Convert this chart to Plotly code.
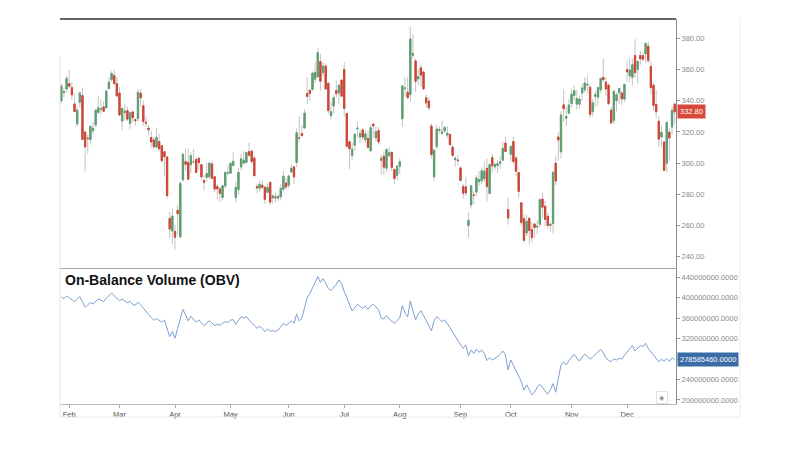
import pandas as pd
import plotly.graph_objects as go

# ---------------- data ----------------
HOLIDAYS = ["2018-02-19", "2018-03-30", "2018-05-28", "2018-07-04",
            "2018-09-03", "2018-11-22", "2018-12-05", "2018-12-25"]
dates = [d.strftime("%Y-%m-%d") for d in
         pd.bdate_range("2018-01-29", "2018-12-31", freq="C", holidays=HOLIDAYS)]

opens = [
    339.85, 345.14, 347.51,
    351.00, 348.44, 337.97, 325.21, 338.99, 343.31, 319.93, 316.13, 315.02, 320.84, 324.50, 332.50, 334.47, 336.03, 335.53, 347.83, 353.50, 356.27, 351.00,
    345.01, 326.98, 332.39, 333.75, 325.44, 332.86, 328.00, 328.61, 344.92, 336.76, 326.26, 322.50, 316.50, 314.87, 310.25, 313.89, 311.25, 307.34, 304.00, 264.58, 256.49,
    256.26, 269.82, 252.78, 289.34, 301.00, 300.37, 298.97, 300.74, 302.32, 303.10, 299.00, 288.87, 291.00, 291.28, 299.53, 291.29, 285.00, 283.50, 278.00, 285.37, 293.61,
    293.51, 298.57, 278.00, 283.00, 297.50, 300.00, 300.41, 307.50, 307.70, 303.32, 285.01, 283.83, 285.90, 284.65, 281.33, 287.76, 277.76, 278.40, 277.63, 278.51, 283.29, 287.21,
    285.86, 294.34, 297.70, 300.50, 316.15, 319.00, 322.51, 344.70, 346.71, 347.21, 353.84, 355.40, 365.16, 358.04, 362.26, 351.24, 330.44, 336.58, 346.60, 345.00, 353.27,
    360.07, 331.75, 313.76, 304.95, 311.50, 322.00, 316.70, 321.30, 315.00, 315.90, 308.00, 325.00, 316.33, 321.00, 301.84, 304.42, 296.74, 304.85, 307.00, 295.90, 292.24,
    297.99, 328.44, 347.81, 345.46, 343.84, 369.09, 365.55, 354.00, 361.13, 358.45, 341.91, 339.90, 323.83, 291.20, 310.61, 320.87, 319.14, 320.70, 318.00, 318.41, 310.27, 302.26, 302.00,
    296.94, 285.05, 284.80, 260.10, 273.26, 279.47, 281.44, 288.02, 288.75, 290.04, 296.69, 280.51, 303.56, 297.70, 298.48, 300.00, 301.91, 312.90, 270.26,
    305.77, 313.95, 303.33, 293.95, 274.65, 264.52, 255.25, 264.61, 257.53, 261.00, 259.06, 260.80, 277.00, 272.46, 266.00, 260.00, 261.40, 300.00, 316.80, 307.25, 337.37, 328.80, 332.00,
    338.26, 343.40, 337.83, 337.80, 345.00, 347.00, 350.00, 348.60, 333.00, 342.70, 342.30, 347.00, 355.00, 352.00, 350.00, 334.00, 327.50, 340.00, 345.00, 345.00, 341.00,
    360.00, 356.00, 355.00, 369.00, 360.00, 369.00, 369.00, 370.00, 375.00, 362.00, 350.00, 337.60, 327.00, 316.80, 313.50, 300.00, 319.84, 323.10, 337.79,
]
highs = [
    350.85, 348.27, 356.19,
    359.66, 351.95, 344.47, 336.22, 346.00, 348.62, 320.98, 318.08, 323.96, 326.17, 334.12, 343.12, 340.84, 339.69, 347.44, 354.99, 359.00, 359.99, 355.24,
    348.67, 335.22, 337.75, 336.37, 332.50, 333.30, 328.00, 347.21, 347.45, 339.81, 330.10, 324.50, 320.75, 316.25, 322.44, 318.82, 311.61, 307.59, 304.27, 268.68, 270.96,
    260.33, 273.35, 288.37, 306.26, 309.28, 309.50, 307.10, 308.98, 303.95, 303.95, 299.50, 292.17, 300.24, 300.69, 301.80, 291.49, 287.00, 285.00, 285.00, 294.47, 298.73,
    300.82, 306.85, 288.00, 296.86, 305.98, 307.75, 307.01, 312.99, 308.88, 304.94, 286.96, 288.81, 289.20, 284.65, 286.87, 288.00, 279.91, 281.11, 279.64, 286.50, 295.01, 290.37,
    291.95, 299.00, 297.80, 322.17, 330.00, 324.48, 334.66, 354.97, 347.20, 358.75, 364.67, 373.73, 370.00, 364.36, 363.97, 352.00, 339.50, 343.67, 353.30, 350.00, 353.65,
    364.78, 332.49, 314.39, 312.99, 318.55, 326.49, 321.39, 322.50, 321.20, 320.60, 324.74, 325.50, 323.54, 323.24, 305.50, 307.72, 309.62, 310.70, 307.30, 296.70, 298.32,
    303.00, 349.99, 355.00, 354.98, 387.46, 382.64, 367.01, 360.00, 363.19, 359.20, 344.00, 342.28, 325.49, 308.50, 324.79, 323.88, 327.32, 323.85, 323.75, 318.88, 311.85, 304.60, 305.31,
    298.19, 286.78, 291.17, 268.35, 286.03, 282.00, 292.50, 295.00, 297.33, 300.87, 302.64, 300.00, 305.98, 300.58, 302.00, 304.60, 313.89, 316.76, 278.00,
    311.44, 316.84, 304.60, 294.00, 274.88, 267.76, 266.77, 265.51, 262.25, 261.99, 263.28, 277.48, 281.00, 275.75, 268.00, 262.00, 295.17, 305.00, 320.00, 333.00, 347.18, 336.00, 341.24,
    347.40, 349.78, 346.90, 343.00, 351.00, 355.00, 356.00, 350.00, 341.00, 346.00, 349.00, 355.00, 367.00, 355.00, 351.00, 336.00, 346.80, 345.00, 348.00, 346.00, 351.00,
    366.00, 367.00, 367.00, 379.50, 365.98, 371.90, 371.00, 377.00, 377.90, 365.70, 351.55, 347.00, 330.00, 324.00, 314.50, 326.97, 322.17, 336.24, 339.21,
]
lows = [
    338.28, 342.17, 345.19,
    348.63, 340.51, 333.00, 323.50, 335.66, 315.01, 294.76, 306.25, 312.26, 318.52, 322.98, 331.64, 331.50, 333.37, 334.75, 347.10, 352.20, 350.01, 342.22,
    330.07, 320.90, 327.10, 327.03, 321.74, 326.27, 324.03, 326.50, 336.40, 323.93, 323.00, 318.00, 309.50, 308.76, 310.19, 308.18, 300.45, 291.36, 277.18, 252.10, 248.21,
    244.59, 254.49, 252.00, 288.20, 295.50, 289.21, 293.68, 299.66, 293.68, 295.98, 289.00, 282.51, 288.46, 289.86, 290.00, 281.30, 277.00, 275.00, 276.00, 283.83, 292.50,
    293.22, 297.78, 275.00, 279.52, 295.17, 299.00, 300.05, 304.11, 299.08, 291.62, 280.50, 281.56, 283.14, 274.00, 280.50, 273.42, 274.00, 274.89, 275.61, 276.15, 281.60, 282.93,
    283.84, 293.55, 286.74, 297.48, 313.58, 317.22, 322.50, 338.00, 339.80, 346.60, 351.25, 354.50, 346.25, 355.51, 347.20, 331.92, 328.02, 331.50, 342.00, 337.80, 342.41,
    329.85, 309.69, 296.22, 302.00, 308.00, 316.00, 313.00, 314.41, 312.85, 309.25, 307.00, 316.25, 314.01, 312.00, 292.86, 292.54, 294.50, 303.64, 295.00, 286.50, 289.07,
    293.00, 323.16, 342.53, 341.02, 339.15, 367.12, 345.73, 350.00, 349.02, 347.10, 335.30, 333.82, 303.00, 288.20, 309.00, 319.00, 318.10, 319.40, 316.00, 311.19, 303.69, 297.72, 298.60,
    288.00, 277.18, 278.88, 252.25, 271.00, 273.55, 278.65, 285.18, 286.52, 288.13, 275.50, 280.50, 293.33, 295.37, 293.58, 296.50, 301.11, 307.80, 260.56,
    301.05, 299.15, 291.57, 277.67, 260.00, 249.00, 253.30, 247.77, 249.03, 252.01, 254.54, 258.61, 265.00, 259.53, 258.00, 256.00, 255.00, 286.00, 301.50, 303.00, 326.34, 324.00, 331.51,
    335.70, 340.20, 334.30, 335.00, 340.00, 345.00, 345.00, 329.00, 330.00, 336.00, 337.00, 345.00, 352.00, 343.00, 337.00, 325.00, 325.00, 333.00, 338.00, 337.00, 339.00,
    352.00, 352.00, 350.00, 355.00, 351.00, 363.00, 365.00, 364.00, 364.00, 343.90, 333.70, 329.00, 310.00, 311.00, 295.20, 294.09, 301.50, 318.41, 325.26,
]
closes = [
    349.53, 345.82, 354.31,
    349.25, 343.75, 333.13, 333.97, 345.00, 315.23, 310.42, 315.73, 323.66, 322.31, 334.07, 335.49, 334.77, 333.30, 346.17, 352.05, 357.42, 350.99, 343.06,
    330.93, 335.12, 333.35, 328.20, 332.30, 329.10, 327.17, 345.51, 341.84, 326.63, 325.60, 321.35, 313.56, 310.55, 316.53, 309.10, 301.54, 304.18, 279.18, 257.78, 266.13,
    252.48, 267.53, 286.94, 305.72, 299.30, 289.66, 304.70, 300.93, 294.08, 300.34, 291.21, 287.69, 293.35, 300.08, 290.24, 283.37, 283.46, 280.69, 285.48, 294.08, 293.90,
    299.92, 301.15, 284.45, 294.09, 302.77, 301.97, 306.85, 305.02, 301.06, 291.97, 284.18, 286.48, 284.54, 276.82, 284.49, 275.01, 279.07, 277.85, 278.85, 283.76, 291.72, 284.73,
    291.82, 296.74, 291.13, 319.50, 316.09, 317.66, 332.10, 342.77, 344.78, 357.72, 358.17, 370.83, 352.55, 362.22, 347.51, 333.63, 333.01, 342.00, 344.50, 349.93, 342.95,
    335.07, 310.86, 309.16, 308.90, 318.51, 322.47, 318.96, 316.71, 318.87, 310.10, 322.69, 323.85, 320.23, 313.58, 303.20, 297.43, 308.74, 306.65, 297.18, 290.17, 298.14,
    300.84, 349.54, 348.17, 341.99, 379.57, 370.34, 352.45, 355.49, 356.41, 347.64, 338.69, 335.45, 305.50, 308.44, 321.90, 321.64, 320.10, 322.82, 319.27, 311.86, 305.01, 303.15, 301.66,
    288.95, 280.74, 280.95, 263.24, 285.50, 279.44, 290.54, 289.46, 295.20, 294.84, 284.96, 299.02, 298.33, 299.10, 299.68, 300.99, 309.58, 307.52, 264.77,
    310.70, 301.02, 294.80, 281.83, 261.95, 250.56, 262.80, 256.88, 252.23, 258.78, 259.59, 276.59, 271.78, 263.91, 260.00, 260.95, 294.14, 288.50, 314.86, 330.90, 334.85, 329.90, 337.32,
    344.28, 346.41, 341.40, 341.06, 348.16, 351.40, 350.51, 331.28, 338.73, 344.00, 348.44, 354.31, 353.47, 347.49, 338.19, 325.83, 346.00, 343.92, 347.87, 341.17, 350.48,
    358.49, 359.70, 363.06, 357.97, 365.15, 366.76, 366.60, 376.79, 365.71, 348.42, 337.03, 332.97, 315.38, 319.77, 295.39, 326.09, 316.13, 333.87, 332.80,
]
# On-Balance Volume, in millions of shares
obv_millions = [
    401, 398, 403.4,
    400, 396, 392, 397, 402, 392, 381, 386, 390, 388, 393, 397.5, 395, 392, 399, 404, 408.7, 404, 399,
    394, 397, 393, 390, 393, 387, 385, 391, 386, 379, 373, 367, 361, 356, 359, 355, 352, 356, 338, 323.8, 334,
    320.6, 340, 360, 377, 366, 354.5, 363.5, 357, 352, 356.4, 350, 345, 350, 355, 350, 345.5, 348, 346, 350, 353, 351,
    356, 357, 348, 356, 363, 360, 363, 356, 350, 345, 340, 344, 340, 333.5, 339, 334, 336, 333.5, 336.7, 343, 350, 345.5,
    350, 354.5, 350, 367.6, 354.5, 360, 380, 400, 408, 418, 430, 441, 430, 437, 428, 418, 413.8, 420, 426, 434.7, 428,
    412, 398, 386, 374, 380, 387, 383, 379, 383.6, 377, 384, 387, 382, 376, 360, 358, 365, 358, 354, 350, 355,
    360, 384.5, 370, 362, 393.6, 374, 356.4, 368, 374.6, 365, 354.5, 345, 335, 355, 363, 358, 353, 356.4, 350, 341.5, 333, 324, 316,
    308, 301, 307, 286.6, 297.7, 291, 299, 293, 297.7, 291, 277, 282.6, 278, 281, 285, 289, 295.7, 288, 258.6,
    278, 268, 258, 248.8, 235.7, 219.5, 229.3, 220, 209.8, 215, 225, 230.6, 224, 218, 211, 220, 231.9, 215, 242.3, 268.3, 274.8, 268.3, 277,
    283, 289.3, 282, 276, 284, 289.3, 285, 279.5, 284, 289.3, 294, 299, 292, 282.6, 277, 274.8, 280, 278, 281, 280, 287,
    293, 300, 306.2, 295.7, 301, 306.2, 304, 311, 301, 294, 286.6, 280, 274.8, 279.5, 276, 281, 274.8, 282.6, 278.58546,
]
month_labels = ["Feb", "Mar", "Apr", "May", "Jun", "Jul", "Aug", "Sep", "Oct", "Nov", "Dec"]
price_ticks = [240, 260, 280, 300, 320, 340, 360, 380]
obv_ticks = [200e6, 240e6, 280e6, 320e6, 360e6, 400e6, 440e6]

assert len(dates) == len(opens) == len(highs) == len(lows) == len(closes) == len(obv_millions) == 233

obv = [v * 1e6 for v in obv_millions]
last_price = closes[-1]
last_obv = round(obv[-1])

# first trading day of each month Feb..Dec
tick_dates = []
for m in range(2, 13):
    tick_dates.append(next(d for d in dates if int(d[5:7]) == m))

GREEN = "#5f9e72"
RED = "#cf4636"
WICK = "#c4c4c4"
FONT = "Liberation Sans, Arial, sans-serif"

fig = go.Figure()
# wicks (gray)
fig.add_trace(go.Candlestick(
    x=dates, open=opens, high=highs, low=lows, close=closes,
    increasing=dict(line=dict(color=WICK, width=1), fillcolor=GREEN),
    decreasing=dict(line=dict(color=WICK, width=1), fillcolor=RED),
    whiskerwidth=0, hoverinfo="skip", xaxis="x", yaxis="y", showlegend=False))
# coloured bodies on top
fig.add_trace(go.Candlestick(
    x=dates, open=opens, close=closes,
    high=[max(o, c) for o, c in zip(opens, closes)],
    low=[min(o, c) for o, c in zip(opens, closes)],
    increasing=dict(line=dict(color=GREEN, width=1), fillcolor=GREEN),
    decreasing=dict(line=dict(color=RED, width=1), fillcolor=RED),
    whiskerwidth=0, hoverinfo="skip", xaxis="x", yaxis="y", showlegend=False))
fig.add_trace(go.Scatter(
    x=dates, y=obv, mode="lines", line=dict(color="#7da0d2", width=1),
    xaxis="x2", yaxis="y2", hoverinfo="skip", showlegend=False))

TOP_LO = (404 - 268) / 385
BOT_HI = (404 - 269) / 385

fig.update_layout(
    width=800, height=450,
    margin=dict(l=60, r=124, t=19, b=46),
    paper_bgcolor="white", plot_bgcolor="white",
    font=dict(family=FONT),
    showlegend=False,
    xaxis=dict(type="category", domain=[0, 1], anchor="y", range=[-0.5, len(dates) - 0.5],
               showticklabels=False, ticks="", showgrid=False, zeroline=False,
               showline=True, linecolor="#a8a8a8", linewidth=1,
               rangeslider=dict(visible=False), categoryorder="array", categoryarray=dates),
    yaxis=dict(domain=[TOP_LO, 1], anchor="x", side="right", range=[232.8, 392.4],
               tickvals=price_ticks, tickformat=".2f", ticks="outside", ticklen=3,
               tickcolor="#999", showgrid=False, zeroline=False, showline=True,
               linecolor="#8c8c8c", linewidth=1, tickfont=dict(size=7.5, color="#8a8a8a")),
    xaxis2=dict(type="category", domain=[0, 1], anchor="y2", range=[-0.5, len(dates) - 0.5],
                categoryorder="array", categoryarray=dates,
                tickvals=tick_dates, ticktext=month_labels, ticks="outside", ticklen=3,
                tickcolor="#aaa", showgrid=False, zeroline=False, showline=True,
                linecolor="#b8b8b8", linewidth=1, tickfont=dict(size=7.5, color="#555")),
    yaxis2=dict(domain=[0, BOT_HI], anchor="x2", side="right", range=[192e6, 456e6],
                tickvals=obv_ticks, tickformat=".4f", ticks="outside", ticklen=3,
                tickcolor="#999", showgrid=False, zeroline=False, showline=True,
                linecolor="#8c8c8c", linewidth=1, tickfont=dict(size=7.5, color="#8a8a8a")),
)

shapes = [
    # dark top border of the price pane
    dict(type="line", xref="paper", yref="paper", x0=0, x1=1, y0=1, y1=1,
         line=dict(color="#333", width=1.5)),
    # faint outer frame
    dict(type="line", xref="paper", yref="paper", x0=0, x1=0, y0=(404 - 57) / 385, y1=(404 - 417) / 385,
         line=dict(color="#e4e4e4", width=1)),
    dict(type="line", xref="paper", yref="paper", x0=0, x1=(740 - 60) / 616, y0=(404 - 417) / 385,
         y1=(404 - 417) / 385, line=dict(color="#ececec", width=1)),
    dict(type="line", xref="paper", yref="paper", x0=(740 - 60) / 616, x1=(740 - 60) / 616,
         y0=(404 - 18) / 385, y1=(404 - 417) / 385, line=dict(color="#ececec", width=1)),
]
fig.update_layout(shapes=shapes)

annotations = [
    dict(text="<b>On-Balance Volume (OBV)</b>", xref="paper", yref="paper",
         x=0.005, y=(404 - 280) / 385, xanchor="left", yanchor="middle",
         showarrow=False, font=dict(size=14, color="#111", family=FONT)),
    dict(text=f"{last_price:.2f}", xref="paper", yref="y", x=1, y=last_price,
         xanchor="left", yanchor="middle", xshift=1, showarrow=False,
         bgcolor="#d74a3b", borderpad=2, font=dict(size=7.5, color="white", family=FONT)),
    dict(text=f"{last_obv:.4f}", xref="paper", yref="y2", x=1, y=last_obv,
         xanchor="left", yanchor="middle", xshift=1, showarrow=False,
         bgcolor="#3a6ca6", borderpad=2, font=dict(size=7.5, color="white", family=FONT)),
    dict(text="◈", xref="paper", yref="paper", x=(662 - 60) / 616, y=(404 - 397) / 385,
         xanchor="center", yanchor="middle", showarrow=False, bgcolor="white",
         bordercolor="#e2e2e2", borderwidth=1, borderpad=2,
         font=dict(size=7, color="#888")),
]
fig.update_layout(annotations=annotations)

fig.write_html("out.html")
